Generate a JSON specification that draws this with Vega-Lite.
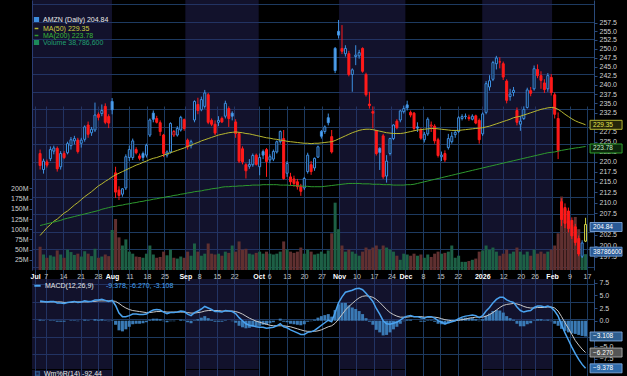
{
"$schema":"https://vega.github.io/schema/vega-lite/v6.json",
"width":562,"height":376,
"autosize":{"type":"none"},
"padding":{"left":32,"top":0,"right":33,"bottom":0},
"background":"#000000",
"config":{
 "view":{"stroke":null,"fill":"#000000"},
 "font":"Liberation Sans",
 "axis":{"labelFont":"Liberation Sans","labelFontSize":7,"labelColor":"#d0d0d0","domainColor":"#2a4a7a","tickColor":"#2a4a7a","gridColor":"#1d3a60","gridOpacity":1,"labelOverlap":false},
 "legend":{"labelFont":"Liberation Sans","labelFontSize":7,"title":null},
 "text":{"font":"Liberation Sans"}
},
"datasets":{
"mon":[{"s":-0.9,"e":22},{"s":43,"e":64},{"s":87,"e":106},{"s":128,"e":148}],
"d":[
{"i":0,"o":222.0,"h":223.0,"l":218.0,"c":219.0,"v":57,"a":202.3,"b":204.6,"m":3.9,"s":3.7,"g":0.2},
{"i":1,"o":218.0,"h":220.7,"l":217.0,"c":220.1,"v":38,"a":203.2,"b":204.8,"m":3.8,"s":3.7,"g":0.1},
{"i":2,"o":219.9,"h":220.5,"l":218.5,"c":219.1,"v":30,"a":204.1,"b":205.0,"m":3.7,"s":3.7,"g":0.0},
{"i":3,"o":220.7,"h":223.8,"l":220.1,"c":223.0,"v":36,"a":204.8,"b":205.2,"m":3.8,"s":3.7,"g":0.1},
{"i":4,"o":222.6,"h":224.0,"l":221.8,"c":223.4,"v":33,"a":205.6,"b":205.4,"m":3.8,"s":3.7,"g":0.1},
{"i":5,"o":223.3,"h":223.8,"l":217.5,"c":218.2,"v":48,"a":206.1,"b":205.6,"m":3.5,"s":3.7,"g":-0.2},
{"i":6,"o":218.7,"h":222.6,"l":218.0,"c":222.0,"v":38,"a":206.8,"b":205.8,"m":3.5,"s":3.7,"g":-0.2},
{"i":7,"o":222.0,"h":222.6,"l":220.6,"c":221.0,"v":30,"a":207.5,"b":206.1,"m":3.4,"s":3.6,"g":-0.2},
{"i":8,"o":222.2,"h":225.0,"l":221.8,"c":224.5,"v":50,"a":208.0,"b":206.3,"m":3.6,"s":3.6,"g":0.0},
{"i":9,"o":224.0,"h":226.2,"l":223.0,"c":225.5,"v":44,"a":208.7,"b":206.5,"m":3.7,"s":3.6,"g":0.1},
{"i":10,"o":225.2,"h":226.5,"l":224.3,"c":225.8,"v":37,"a":209.4,"b":206.7,"m":3.8,"s":3.7,"g":0.1},
{"i":11,"o":225.4,"h":226.0,"l":222.0,"c":222.5,"v":40,"a":210.0,"b":206.9,"m":3.6,"s":3.7,"g":-0.1},
{"i":12,"o":224.6,"h":226.0,"l":223.5,"c":225.4,"v":33,"a":210.7,"b":207.1,"m":3.7,"s":3.7,"g":0.0},
{"i":13,"o":225.6,"h":229.2,"l":225.0,"c":228.8,"v":46,"a":211.4,"b":207.3,"m":3.9,"s":3.7,"g":0.2},
{"i":14,"o":229.3,"h":230.2,"l":226.0,"c":226.9,"v":40,"a":212.0,"b":207.5,"m":3.8,"s":3.7,"g":0.1},
{"i":15,"o":227.3,"h":228.8,"l":226.5,"c":228.2,"v":34,"a":212.6,"b":207.7,"m":3.8,"s":3.8,"g":0.0},
{"i":16,"o":228.0,"h":235.2,"l":227.5,"c":231.9,"v":52,"a":213.3,"b":207.9,"m":4.1,"s":3.8,"g":0.3},
{"i":17,"o":232.1,"h":232.6,"l":230.5,"c":231.3,"v":30,"a":214.0,"b":208.1,"m":4.1,"s":3.9,"g":0.2},
{"i":18,"o":232.3,"h":234.7,"l":231.6,"c":233.1,"v":33,"a":214.5,"b":208.4,"m":4.2,"s":3.9,"g":0.3},
{"i":19,"o":234.2,"h":235.0,"l":229.5,"c":230.0,"v":38,"a":215.1,"b":208.6,"m":4.0,"s":3.9,"g":0.1},
{"i":20,"o":231.5,"h":232.1,"l":228.5,"c":229.8,"v":34,"a":215.6,"b":208.8,"m":3.8,"s":3.9,"g":-0.1},
{"i":21,"o":235.5,"h":236.4,"l":232.1,"c":233.3,"v":98,"a":216.2,"b":209.0,"m":4.0,"s":3.9,"g":0.1},
{"i":22,"o":217.2,"h":218.7,"l":211.1,"c":212.5,"v":125,"a":216.7,"b":209.1,"m":3.0,"s":3.8,"g":-0.8},
{"i":23,"o":213.0,"h":213.9,"l":210.6,"c":211.7,"v":80,"a":217.1,"b":209.3,"m":1.5,"s":3.4,"g":-1.9},
{"i":24,"o":212.0,"h":213.5,"l":211.4,"c":213.3,"v":60,"a":217.5,"b":209.4,"m":0.8,"s":2.9,"g":-2.1},
{"i":25,"o":213.5,"h":221.8,"l":213.0,"c":221.2,"v":75,"a":217.9,"b":209.6,"m":0.8,"s":2.5,"g":-1.7},
{"i":26,"o":221.0,"h":224.0,"l":220.1,"c":223.0,"v":45,"a":218.3,"b":209.7,"m":1.0,"s":2.2,"g":-1.2},
{"i":27,"o":221.0,"h":225.8,"l":220.4,"c":225.2,"v":40,"a":218.7,"b":209.9,"m":1.3,"s":2.0,"g":-0.7},
{"i":28,"o":223.0,"h":223.6,"l":221.8,"c":222.2,"v":33,"a":219.1,"b":210.0,"m":1.3,"s":1.9,"g":-0.6},
{"i":29,"o":221.4,"h":222.0,"l":220.3,"c":220.8,"v":32,"a":219.4,"b":210.2,"m":1.2,"s":1.8,"g":-0.6},
{"i":30,"o":222.0,"h":222.5,"l":220.1,"c":221.0,"v":30,"a":219.8,"b":210.3,"m":1.2,"s":1.7,"g":-0.5},
{"i":31,"o":221.6,"h":224.5,"l":221.0,"c":224.1,"v":40,"a":220.1,"b":210.5,"m":1.3,"s":1.6,"g":-0.3},
{"i":32,"o":226.7,"h":231.0,"l":226.2,"c":230.6,"v":60,"a":220.5,"b":210.6,"m":1.8,"s":1.6,"g":0.2},
{"i":33,"o":232.4,"h":233.1,"l":230.0,"c":230.8,"v":38,"a":220.8,"b":210.8,"m":2.1,"s":1.7,"g":0.4},
{"i":34,"o":231.0,"h":231.7,"l":229.7,"c":230.0,"v":30,"a":221.0,"b":210.9,"m":2.2,"s":1.8,"g":0.4},
{"i":35,"o":229.9,"h":230.5,"l":226.5,"c":227.6,"v":32,"a":221.3,"b":211.1,"m":2.1,"s":1.8,"g":0.3},
{"i":36,"o":226.7,"h":227.0,"l":221.1,"c":222.0,"v":45,"a":221.6,"b":211.2,"m":1.7,"s":1.8,"g":-0.1},
{"i":37,"o":221.6,"h":222.8,"l":221.0,"c":222.4,"v":36,"a":221.9,"b":211.4,"m":1.4,"s":1.7,"g":-0.3},
{"i":38,"o":222.4,"h":230.0,"l":222.0,"c":229.7,"v":50,"a":222.2,"b":211.5,"m":1.6,"s":1.7,"g":-0.1},
{"i":39,"o":226.7,"h":228.0,"l":226.2,"c":227.6,"v":30,"a":222.5,"b":211.7,"m":1.6,"s":1.7,"g":-0.1},
{"i":40,"o":226.7,"h":229.0,"l":226.3,"c":228.4,"v":28,"a":222.8,"b":211.8,"m":1.7,"s":1.7,"g":0.0},
{"i":41,"o":228.0,"h":231.7,"l":227.6,"c":231.3,"v":33,"a":223.1,"b":212.0,"m":1.9,"s":1.7,"g":0.2},
{"i":42,"o":230.7,"h":231.0,"l":227.8,"c":228.4,"v":30,"a":223.4,"b":212.1,"m":1.8,"s":1.7,"g":0.1},
{"i":43,"o":225.4,"h":225.8,"l":223.0,"c":223.7,"v":45,"a":223.8,"b":212.3,"m":1.3,"s":1.6,"g":-0.3},
{"i":44,"o":224.0,"h":225.5,"l":223.3,"c":225.0,"v":35,"a":224.1,"b":212.4,"m":1.0,"s":1.5,"g":-0.5},
{"i":45,"o":230.6,"h":235.8,"l":230.0,"c":235.5,"v":65,"a":224.5,"b":212.6,"m":1.6,"s":1.5,"g":0.1},
{"i":46,"o":234.7,"h":236.5,"l":232.1,"c":233.1,"v":45,"a":224.8,"b":212.7,"m":1.9,"s":1.6,"g":0.3},
{"i":47,"o":233.3,"h":236.8,"l":232.9,"c":236.0,"v":35,"a":225.2,"b":212.8,"m":2.3,"s":1.7,"g":0.6},
{"i":48,"o":234.2,"h":238.6,"l":233.6,"c":237.8,"v":40,"a":225.5,"b":213.0,"m":2.8,"s":1.9,"g":0.9},
{"i":49,"o":237.3,"h":237.8,"l":229.5,"c":230.0,"v":65,"a":225.8,"b":213.1,"m":2.5,"s":2.0,"g":0.5},
{"i":50,"o":230.5,"h":231.0,"l":229.0,"c":229.5,"v":40,"a":226.1,"b":213.3,"m":2.2,"s":2.0,"g":0.2},
{"i":51,"o":229.5,"h":230.5,"l":226.7,"c":227.2,"v":38,"a":226.4,"b":213.4,"m":1.8,"s":2.0,"g":-0.2},
{"i":52,"o":230.0,"h":231.6,"l":229.0,"c":230.5,"v":40,"a":226.7,"b":213.5,"m":1.8,"s":2.0,"g":-0.2},
{"i":53,"o":231.0,"h":231.5,"l":229.8,"c":230.1,"v":35,"a":226.9,"b":213.7,"m":1.7,"s":1.9,"g":-0.2},
{"i":54,"o":231.6,"h":235.7,"l":231.0,"c":235.0,"v":45,"a":227.1,"b":213.8,"m":2.0,"s":1.9,"g":0.1},
{"i":55,"o":233.6,"h":234.2,"l":228.8,"c":231.0,"v":42,"a":227.3,"b":213.8,"m":1.9,"s":1.9,"g":0.0},
{"i":56,"o":232.4,"h":232.9,"l":230.5,"c":231.6,"v":60,"a":227.4,"b":213.9,"m":1.8,"s":1.9,"g":-0.1},
{"i":57,"o":230.1,"h":230.8,"l":226.0,"c":227.1,"v":45,"a":227.5,"b":213.9,"m":1.4,"s":1.8,"g":-0.4},
{"i":58,"o":227.1,"h":227.5,"l":219.6,"c":220.1,"v":70,"a":227.4,"b":214.0,"m":0.6,"s":1.6,"g":-1.0},
{"i":59,"o":223.2,"h":223.8,"l":219.3,"c":219.9,"v":50,"a":227.3,"b":214.0,"m":0.0,"s":1.3,"g":-1.3},
{"i":60,"o":219.2,"h":219.6,"l":215.8,"c":217.7,"v":52,"a":227.1,"b":214.1,"m":-0.6,"s":0.9,"g":-1.5},
{"i":61,"o":218.8,"h":220.6,"l":218.2,"c":219.3,"v":40,"a":227.0,"b":214.1,"m":-0.9,"s":0.5,"g":-1.4},
{"i":62,"o":219.2,"h":222.0,"l":218.7,"c":221.5,"v":38,"a":226.8,"b":214.2,"m":-1.0,"s":0.2,"g":-1.2},
{"i":63,"o":221.6,"h":222.0,"l":219.0,"c":219.3,"v":42,"a":226.6,"b":214.2,"m":-1.2,"s":-0.1,"g":-1.1},
{"i":64,"o":218.7,"h":222.0,"l":216.6,"c":221.0,"v":45,"a":226.4,"b":214.2,"m":-1.3,"s":-0.3,"g":-1.0},
{"i":65,"o":222.5,"h":223.0,"l":220.6,"c":221.6,"v":40,"a":226.2,"b":214.3,"m":-1.3,"s":-0.5,"g":-0.8},
{"i":66,"o":223.0,"h":223.4,"l":216.2,"c":220.0,"v":45,"a":226.0,"b":214.3,"m":-1.5,"s":-0.7,"g":-0.8},
{"i":67,"o":220.4,"h":221.8,"l":219.6,"c":221.2,"v":40,"a":225.9,"b":214.3,"m":-1.4,"s":-0.9,"g":-0.5},
{"i":68,"o":220.6,"h":223.0,"l":220.1,"c":222.5,"v":38,"a":225.7,"b":214.3,"m":-1.3,"s":-1.0,"g":-0.3},
{"i":69,"o":222.4,"h":225.3,"l":222.0,"c":225.0,"v":40,"a":225.6,"b":214.3,"m":-1.0,"s":-1.0,"g":0.0},
{"i":70,"o":225.0,"h":227.9,"l":224.5,"c":227.6,"v":45,"a":225.4,"b":214.2,"m":-0.6,"s":-1.0,"g":0.4},
{"i":71,"o":225.8,"h":228.0,"l":215.5,"c":215.8,"v":70,"a":225.3,"b":214.2,"m":-1.2,"s":-1.0,"g":-0.2},
{"i":72,"o":217.1,"h":220.1,"l":216.2,"c":219.5,"v":50,"a":225.1,"b":214.2,"m":-1.4,"s":-1.1,"g":-0.3},
{"i":73,"o":216.2,"h":217.2,"l":214.1,"c":215.0,"v":45,"a":225.0,"b":214.1,"m":-1.8,"s":-1.2,"g":-0.6},
{"i":74,"o":215.7,"h":216.5,"l":213.8,"c":214.6,"v":42,"a":224.9,"b":214.1,"m":-2.1,"s":-1.4,"g":-0.7},
{"i":75,"o":215.0,"h":215.7,"l":213.1,"c":213.8,"v":45,"a":224.8,"b":214.0,"m":-2.4,"s":-1.6,"g":-0.8},
{"i":76,"o":213.9,"h":214.5,"l":211.6,"c":212.7,"v":55,"a":224.7,"b":214.0,"m":-2.7,"s":-1.8,"g":-0.9},
{"i":77,"o":213.5,"h":216.2,"l":213.0,"c":215.8,"v":40,"a":224.6,"b":213.9,"m":-2.7,"s":-2.0,"g":-0.7},
{"i":78,"o":217.5,"h":222.2,"l":217.0,"c":221.6,"v":50,"a":224.6,"b":213.9,"m":-2.3,"s":-2.1,"g":-0.2},
{"i":79,"o":219.2,"h":220.1,"l":216.7,"c":217.5,"v":45,"a":224.5,"b":213.8,"m":-2.2,"s":-2.1,"g":-0.1},
{"i":80,"o":218.4,"h":221.0,"l":217.7,"c":220.8,"v":38,"a":224.6,"b":213.8,"m":-1.9,"s":-2.1,"g":0.2},
{"i":81,"o":221.1,"h":224.0,"l":220.9,"c":223.7,"v":40,"a":224.6,"b":213.8,"m":-1.4,"s":-2.0,"g":0.6},
{"i":82,"o":227.6,"h":228.0,"l":225.8,"c":226.4,"v":45,"a":224.7,"b":213.8,"m":-0.9,"s":-1.8,"g":0.9},
{"i":83,"o":227.6,"h":229.2,"l":227.0,"c":228.8,"v":40,"a":224.8,"b":213.9,"m":-0.4,"s":-1.5,"g":1.1},
{"i":84,"o":231.2,"h":232.3,"l":229.2,"c":229.9,"v":48,"a":224.9,"b":214.0,"m":0.1,"s":-1.2,"g":1.3},
{"i":85,"o":226.3,"h":228.0,"l":222.0,"c":222.4,"v":90,"a":225.0,"b":214.1,"m":-0.2,"s":-1.0,"g":0.8},
{"i":86,"o":250.1,"h":250.5,"l":243.2,"c":243.9,"v":165,"a":225.3,"b":214.2,"m":1.6,"s":-0.5,"g":2.1},
{"i":87,"o":255.0,"h":258.3,"l":252.9,"c":253.9,"v":100,"a":225.7,"b":214.3,"m":3.5,"s":0.3,"g":3.2},
{"i":88,"o":250.1,"h":256.8,"l":248.5,"c":249.3,"v":60,"a":226.1,"b":214.4,"m":4.7,"s":1.2,"g":3.5},
{"i":89,"o":248.6,"h":251.0,"l":247.8,"c":250.1,"v":45,"a":226.5,"b":214.5,"m":5.6,"s":2.1,"g":3.5},
{"i":90,"o":248.6,"h":249.4,"l":242.3,"c":242.8,"v":50,"a":226.9,"b":214.6,"m":5.8,"s":2.8,"g":3.0},
{"i":91,"o":242.8,"h":244.5,"l":238.1,"c":244.1,"v":45,"a":227.3,"b":214.6,"m":6.0,"s":3.4,"g":2.6},
{"i":92,"o":247.8,"h":251.0,"l":245.4,"c":248.2,"v":40,"a":227.6,"b":214.6,"m":6.3,"s":4.0,"g":2.3},
{"i":93,"o":248.0,"h":249.7,"l":247.2,"c":248.9,"v":35,"a":227.9,"b":214.6,"m":6.4,"s":4.5,"g":1.9},
{"i":94,"o":250.1,"h":250.4,"l":243.3,"c":243.7,"v":45,"a":228.1,"b":214.5,"m":6.1,"s":4.8,"g":1.3},
{"i":95,"o":242.8,"h":243.3,"l":236.8,"c":237.3,"v":55,"a":228.2,"b":214.5,"m":5.4,"s":4.9,"g":0.5},
{"i":96,"o":234.8,"h":238.1,"l":233.6,"c":234.4,"v":50,"a":228.2,"b":214.5,"m":4.6,"s":4.8,"g":-0.2},
{"i":97,"o":232.8,"h":234.2,"l":228.4,"c":232.4,"v":55,"a":228.1,"b":214.4,"m":3.8,"s":4.6,"g":-0.8},
{"i":98,"o":227.9,"h":228.0,"l":221.5,"c":222.0,"v":60,"a":227.9,"b":214.4,"m":2.4,"s":4.2,"g":-1.8},
{"i":99,"o":223.3,"h":223.6,"l":217.9,"c":222.3,"v":50,"a":227.7,"b":214.4,"m":1.3,"s":3.6,"g":-2.3},
{"i":100,"o":226.5,"h":227.0,"l":215.7,"c":216.2,"v":60,"a":227.5,"b":214.3,"m":0.0,"s":2.9,"g":-2.9},
{"i":101,"o":216.4,"h":221.6,"l":214.8,"c":220.1,"v":55,"a":227.3,"b":214.3,"m":-0.6,"s":2.2,"g":-2.8},
{"i":102,"o":222.0,"h":226.0,"l":221.5,"c":225.8,"v":50,"a":227.2,"b":214.3,"m":-0.7,"s":1.6,"g":-2.3},
{"i":103,"o":225.8,"h":229.5,"l":225.4,"c":229.3,"v":45,"a":227.1,"b":214.2,"m":-0.5,"s":1.2,"g":-1.7},
{"i":104,"o":230.3,"h":230.8,"l":228.2,"c":228.6,"v":35,"a":227.1,"b":214.2,"m":-0.3,"s":0.9,"g":-1.2},
{"i":105,"o":230.6,"h":233.3,"l":230.0,"c":233.0,"v":25,"a":227.1,"b":214.2,"m":0.1,"s":0.7,"g":-0.6},
{"i":106,"o":232.8,"h":234.4,"l":232.3,"c":233.6,"v":40,"a":227.2,"b":214.2,"m":0.6,"s":0.7,"g":-0.1},
{"i":107,"o":234.6,"h":235.7,"l":233.1,"c":233.8,"v":38,"a":227.4,"b":214.3,"m":0.9,"s":0.7,"g":0.2},
{"i":108,"o":232.6,"h":233.1,"l":231.3,"c":231.9,"v":35,"a":227.6,"b":214.3,"m":1.0,"s":0.8,"g":0.2},
{"i":109,"o":232.4,"h":232.7,"l":227.8,"c":228.4,"v":40,"a":227.8,"b":214.4,"m":0.8,"s":0.8,"g":0.0},
{"i":110,"o":228.8,"h":230.0,"l":227.5,"c":228.5,"v":35,"a":228.0,"b":214.6,"m":0.8,"s":0.8,"g":0.0},
{"i":111,"o":228.0,"h":228.5,"l":225.5,"c":225.9,"v":38,"a":228.1,"b":214.8,"m":0.6,"s":0.8,"g":-0.2},
{"i":112,"o":225.5,"h":227.5,"l":224.8,"c":226.9,"v":30,"a":228.2,"b":215.0,"m":0.5,"s":0.7,"g":-0.2},
{"i":113,"o":227.0,"h":231.3,"l":226.5,"c":230.8,"v":38,"a":228.3,"b":215.2,"m":0.8,"s":0.7,"g":0.1},
{"i":114,"o":229.0,"h":230.2,"l":227.5,"c":229.3,"v":32,"a":228.4,"b":215.4,"m":0.8,"s":0.7,"g":0.1},
{"i":115,"o":229.0,"h":229.5,"l":224.5,"c":225.2,"v":40,"a":228.4,"b":215.6,"m":0.5,"s":0.7,"g":-0.2},
{"i":116,"o":225.5,"h":226.0,"l":221.0,"c":221.5,"v":45,"a":228.3,"b":215.8,"m":0.0,"s":0.6,"g":-0.6},
{"i":117,"o":221.2,"h":222.5,"l":220.1,"c":221.6,"v":40,"a":228.2,"b":216.0,"m":-0.3,"s":0.4,"g":-0.7},
{"i":118,"o":222.0,"h":222.8,"l":219.9,"c":220.4,"v":42,"a":228.1,"b":216.2,"m":-0.6,"s":0.2,"g":-0.8},
{"i":119,"o":223.5,"h":227.0,"l":223.0,"c":225.8,"v":45,"a":228.0,"b":216.4,"m":-0.4,"s":0.1,"g":-0.5},
{"i":120,"o":225.0,"h":227.5,"l":224.5,"c":226.4,"v":60,"a":227.9,"b":216.6,"m":-0.2,"s":0.0,"g":-0.2},
{"i":121,"o":226.8,"h":228.0,"l":226.0,"c":227.4,"v":30,"a":227.9,"b":216.8,"m":0.0,"s":0.0,"g":0.0},
{"i":122,"o":227.6,"h":231.6,"l":227.2,"c":231.2,"v":35,"a":227.9,"b":217.0,"m":0.4,"s":0.1,"g":0.3},
{"i":123,"o":231.0,"h":232.1,"l":230.5,"c":231.5,"v":20,"a":228.0,"b":217.2,"m":0.7,"s":0.2,"g":0.5},
{"i":124,"o":231.5,"h":232.3,"l":230.8,"c":231.6,"v":20,"a":228.1,"b":217.4,"m":0.9,"s":0.3,"g":0.6},
{"i":125,"o":231.3,"h":232.0,"l":230.4,"c":231.0,"v":22,"a":228.2,"b":217.6,"m":1.0,"s":0.5,"g":0.5},
{"i":126,"o":230.8,"h":232.1,"l":230.5,"c":231.6,"v":25,"a":228.3,"b":217.8,"m":1.1,"s":0.6,"g":0.5},
{"i":127,"o":231.7,"h":232.0,"l":229.5,"c":229.8,"v":28,"a":228.4,"b":218.0,"m":1.0,"s":0.7,"g":0.3},
{"i":128,"o":230.5,"h":231.0,"l":224.5,"c":225.5,"v":45,"a":228.5,"b":218.2,"m":0.6,"s":0.7,"g":-0.1},
{"i":129,"o":227.0,"h":232.6,"l":226.5,"c":232.2,"v":48,"a":228.6,"b":218.4,"m":1.0,"s":0.7,"g":0.3},
{"i":130,"o":232.6,"h":241.0,"l":232.1,"c":240.3,"v":60,"a":228.8,"b":218.6,"m":1.9,"s":0.9,"g":1.0},
{"i":131,"o":239.4,"h":242.6,"l":238.4,"c":241.1,"v":50,"a":229.0,"b":218.8,"m":2.6,"s":1.2,"g":1.4},
{"i":132,"o":241.5,"h":246.6,"l":241.0,"c":246.1,"v":55,"a":229.3,"b":219.0,"m":3.5,"s":1.6,"g":1.9},
{"i":133,"o":245.8,"h":248.0,"l":244.2,"c":247.4,"v":45,"a":229.6,"b":219.2,"m":4.2,"s":2.1,"g":2.1},
{"i":134,"o":246.3,"h":247.6,"l":244.5,"c":246.3,"v":35,"a":229.9,"b":219.4,"m":4.6,"s":2.6,"g":2.0},
{"i":135,"o":245.8,"h":246.4,"l":241.3,"c":242.1,"v":40,"a":230.2,"b":219.6,"m":4.6,"s":3.0,"g":1.6},
{"i":136,"o":241.0,"h":241.5,"l":235.0,"c":235.8,"v":50,"a":230.5,"b":219.8,"m":4.1,"s":3.2,"g":0.9},
{"i":137,"o":236.8,"h":238.9,"l":235.7,"c":237.5,"v":40,"a":230.8,"b":220.0,"m":3.8,"s":3.3,"g":0.5},
{"i":138,"o":237.9,"h":239.4,"l":236.9,"c":238.5,"v":45,"a":231.2,"b":220.2,"m":3.6,"s":3.4,"g":0.2},
{"i":139,"o":233.1,"h":233.9,"l":229.2,"c":230.0,"v":55,"a":231.4,"b":220.4,"m":2.7,"s":3.3,"g":-0.6},
{"i":140,"o":229.5,"h":231.6,"l":227.8,"c":230.3,"v":45,"a":231.6,"b":220.6,"m":2.0,"s":3.1,"g":-1.1},
{"i":141,"o":231.0,"h":234.2,"l":230.6,"c":233.4,"v":38,"a":231.9,"b":220.8,"m":1.7,"s":2.8,"g":-1.1},
{"i":142,"o":233.9,"h":239.2,"l":233.6,"c":238.6,"v":45,"a":232.2,"b":221.0,"m":1.9,"s":2.6,"g":-0.7},
{"i":143,"o":238.4,"h":239.4,"l":236.9,"c":237.7,"v":35,"a":232.5,"b":221.2,"m":2.0,"s":2.5,"g":-0.5},
{"i":144,"o":238.9,"h":245.3,"l":238.4,"c":244.4,"v":50,"a":232.8,"b":221.4,"m":2.6,"s":2.5,"g":0.1},
{"i":145,"o":244.2,"h":245.6,"l":241.8,"c":242.5,"v":40,"a":233.1,"b":221.6,"m":2.9,"s":2.6,"g":0.3},
{"i":146,"o":242.5,"h":243.7,"l":238.9,"c":241.2,"v":45,"a":233.4,"b":221.8,"m":2.9,"s":2.6,"g":0.3},
{"i":147,"o":240.5,"h":241.5,"l":237.8,"c":238.7,"v":40,"a":233.6,"b":222.0,"m":2.7,"s":2.6,"g":0.1},
{"i":148,"o":238.9,"h":243.2,"l":238.1,"c":242.5,"v":45,"a":233.8,"b":222.2,"m":2.9,"s":2.7,"g":0.2},
{"i":149,"o":242.0,"h":242.9,"l":237.1,"c":237.9,"v":50,"a":233.9,"b":222.3,"m":2.6,"s":2.7,"g":-0.1},
{"i":150,"o":237.3,"h":237.9,"l":231.0,"c":232.1,"v":60,"a":233.8,"b":222.4,"m":1.9,"s":2.5,"g":-0.6},
{"i":151,"o":231.0,"h":232.6,"l":220.6,"c":222.8,"v":90,"a":233.4,"b":222.6,"m":0.9,"s":1.9,"g":-1.0},
{"i":152,"o":210.2,"h":211.0,"l":204.5,"c":206.0,"v":180,"a":232.8,"b":222.8,"m":-0.8,"s":0.8,"g":-1.6},
{"i":153,"o":208.8,"h":209.8,"l":204.0,"c":205.1,"v":150,"a":232.1,"b":222.95,"m":-2.4,"s":-0.4,"g":-2.0},
{"i":154,"o":208.0,"h":208.8,"l":203.0,"c":203.9,"v":120,"a":231.5,"b":223.1,"m":-3.8,"s":-1.5,"g":-2.3},
{"i":155,"o":205.8,"h":206.5,"l":201.5,"c":202.2,"v":110,"a":230.9,"b":223.25,"m":-5.2,"s":-2.7,"g":-2.5},
{"i":156,"o":204.3,"h":205.0,"l":200.0,"c":200.7,"v":130,"a":230.4,"b":223.4,"m":-6.5,"s":-3.9,"g":-2.6},
{"i":157,"o":201.6,"h":202.3,"l":197.6,"c":198.1,"v":100,"a":230.0,"b":223.5,"m":-7.6,"s":-4.8,"g":-2.8},
{"i":158,"o":197.6,"h":201.2,"l":197.2,"c":200.6,"v":34,"a":229.7,"b":223.65,"m":-8.6,"s":-5.6,"g":-3.0},
{"i":159,"o":201.0,"h":206.4,"l":200.8,"c":204.84,"v":38.7866,"a":229.35,"b":223.78,"m":-9.378,"s":-6.27,"g":-3.108}
]},
"layer":[
 {"data":{"name":"mon"},"mark":{"type":"rect","fill":"#2c2c6a","opacity":0.42},
  "encoding":{
   "x":{"field":"s","type":"quantitative","title":null,"scale":{"domain":[-0.9,160],"nice":false,"zero":false},
    "axis":{"orient":"bottom","offset":-106,"values":[0,3,8,13,18,22,27,32,37,43,47,52,57,64,67,72,77,82,87,92,97,102,106,111,116,121,128,134,139,143,148,153,158],
     "labelExpr":"['Jul','7','14','21','28','Aug','11','18','25','Sep','8','15','22','Oct','6','13','20','27','Nov','10','17','24','Dec','8','15','22','2026','12','20','26','Feb','9','17'][indexof([0,3,8,13,18,22,27,32,37,43,47,52,57,64,67,72,77,82,87,92,97,102,106,111,116,121,128,134,139,143,148,153,158],datum.value)]",
     "labelFontWeight":{"condition":{"test":"indexof([0,22,43,64,87,106,128,148],datum.value)>=0","value":"bold"},"value":"normal"},
     "labelColor":{"condition":{"test":"indexof([0,22,43,64,87,106,128,148],datum.value)>=0","value":"#ffffff"},"value":"#c8c8c8"},
     "labelBound":false,"labelFlush":false,"labelOverlap":false,"ticks":false,"domain":false,"labelPadding":2,"grid":true}},
   "x2":{"field":"e"},
   "y":{"datum":-0.19,"type":"quantitative","title":null,"scale":{"domain":[-0.19,15.24],"range":[270,0],"nice":false,"zero":false},
    "axis":{"orient":"left","values":[0,1,2,3,4,5,6,7,8,9,10,11,12,13,14,15],"labels":false,"ticks":false,"domain":false,"grid":true}},
   "y2":{"datum":15.24}}},
 {"data":{"name":"mon"},"mark":{"type":"rect","fill":"#2c2c6a","opacity":0.42},
  "encoding":{
   "x":{"field":"s","type":"quantitative","title":null,"scale":{"domain":[-0.9,160],"nice":false,"zero":false},"axis":null},
   "x2":{"field":"e"},
   "y":{"datum":0.154,"type":"quantitative","title":null,"scale":{"domain":[0.154,5.297],"range":[369,279],"nice":false,"zero":false},
    "axis":{"orient":"left","values":[1,2,3,4,5],"labels":false,"ticks":false,"domain":false,"grid":true}},
   "y2":{"datum":5.297}}},
 {"data":{"name":"mon"},"mark":{"type":"rect","fill":"#2c2c6a","opacity":0.42,"strokeWidth":0},
  "encoding":{
   "x":{"field":"s","type":"quantitative","title":null,"scale":{"domain":[-0.9,160],"nice":false,"zero":false},"axis":null},
   "x2":{"field":"e"},
   "y":{"datum":0,"type":"quantitative","title":null,"scale":{"domain":[0,1],"range":[376,370],"nice":false,"zero":false},"axis":null},
   "y2":{"datum":1},
   "stroke":{"datum":"w","type":"nominal","scale":{"domain":["w"],"range":["#4aa3f0"]},
    "legend":{"orient":"none","legendX":0,"legendY":368,"padding":2,"labelOffset":3,"symbolType":"square","symbolSize":14,"symbolFillColor":"#4aa3f0","labelExpr":"'Wm%R(14) -92.44'","labelColor":"#e8e8e8"}}}},
 {"data":{"name":"d"},
  "transform":[{"window":[{"op":"lag","field":"c","as":"pc"}],"sort":[{"field":"i"}]}],
  "encoding":{"x":{"field":"i","type":"quantitative","title":null,"scale":{"domain":[-0.9,160],"nice":false,"zero":false},"axis":null}},
  "layer":[
   {"mark":{"type":"bar","orient":"vertical","size":3},
    "encoding":{"y":{"field":"v","type":"quantitative","title":null,"scale":{"domain":[0,661.8],"range":[270,0],"nice":false},
      "axis":{"orient":"left","values":[25,50,75,100,125,150,175,200],"labelExpr":"datum.value+'M'","grid":false,"tickSize":3,"labelPadding":1,"domain":true,"labelOverlap":false}},
     "color":{"condition":{"test":"datum.pc!=null && datum.c>=datum.pc","value":"#1d6045"},"value":"#603030"}}},
   {"transform":[{"filter":"datum.i==159"}],
    "mark":{"type":"tick","orient":"horizontal","size":32,"thickness":9,"xOffset":20.5,"yOffset":-2.5,"fill":"#2a5a96","stroke":"#7aa8e0","strokeWidth":0.8,"opacity":1},
    "encoding":{"y":{"field":"v","type":"quantitative","title":null}}},
   {"transform":[{"filter":"datum.i==159"}],
    "mark":{"type":"text","align":"left","baseline":"middle","dx":7.5,"dy":-2.5,"fontSize":6.5,"color":"#ffffff"},
    "encoding":{"y":{"field":"v","type":"quantitative","title":null},"text":{"value":"38786600"}}}
  ]},
 {"data":{"name":"d"},
  "transform":[{"window":[{"op":"lag","field":"c","as":"pc"}],"sort":[{"field":"i"}]}],
  "encoding":{"x":{"field":"i","type":"quantitative","title":null,"scale":{"domain":[-0.9,160],"nice":false,"zero":false},"axis":null}},
  "layer":[
   {"mark":{"type":"rule","strokeWidth":1},
    "encoding":{"y":{"field":"l","type":"quantitative","title":null,"scale":{"type":"log","domain":[194.54,264.21],"range":[270,0],"nice":false,"zero":false},
       "axis":{"orient":"right","values":[197.5,200,202.5,205,207.5,210,212.5,215,217.5,220,222.5,225,227.5,230,232.5,235,237.5,240,242.5,245,247.5,250,252.5,255,257.5],"format":".1f","tickSize":3,"labelPadding":2,"grid":false,"labelOverlap":false,
         "labelOpacity":{"condition":{"test":"datum.value==205||datum.value==230","value":0},"value":1}}},
     "y2":{"field":"h"},
     "color":{"condition":[{"test":"datum.i==159","value":"#d0d040"},{"test":"datum.pc!=null && datum.c>=datum.pc","value":"#3d8fe0"}],"value":"#ff1a1a"}}},
   {"mark":{"type":"bar","orient":"vertical","size":2,"strokeWidth":1},
    "encoding":{"y":{"field":"o","type":"quantitative","title":null},
     "y2":{"field":"c"},
     "stroke":{"condition":[{"test":"datum.i==159","value":"#d0d040"},{"test":"datum.pc!=null && datum.c>=datum.pc","value":"#3d8fe0"}],"value":"#ff1a1a"},
     "fill":{"condition":[{"test":"datum.c>=datum.o","value":"#080814"},{"test":"datum.pc!=null && datum.c>=datum.pc","value":"#5aa8f0"}],"value":"#ff1a1a"}}},
   {"mark":{"type":"line","strokeWidth":1},
    "encoding":{"y":{"field":"a","type":"quantitative","title":null},
     "color":{"datum":"ma50","type":"nominal","scale":{"domain":["px","ma50","ma200","vol"],"range":["#3d8fe0","#b8b830","#2e9a2e","#1d8a5a"]},
       "legend":{"orient":"none","legendX":-1,"legendY":14,"padding":2,"rowPadding":-4,"labelOffset":3,"symbolSize":14,"symbolStrokeWidth":1.5,
         "symbolType":{"expr":"datum.value=='ma50'||datum.value=='ma200'?'stroke':'square'"},
         "symbolFillColor":{"expr":"datum.value=='px'?'#3d8fe0':datum.value=='vol'?'#1d8a5a':'transparent'"},
         "labelExpr":"datum.value=='px'?'AMZN (Daily) 204.84':datum.value=='ma50'?'MA(50) 229.35':datum.value=='ma200'?'MA(200) 223.78':'Volume 38,786,600'",
         "labelColor":{"expr":"datum.value=='ma50'?'#d0d040':datum.value=='ma200'?'#38b838':datum.value=='vol'?'#20a070':'#e8e8e8'"}}}}},
   {"mark":{"type":"line","strokeWidth":1},
    "encoding":{"y":{"field":"b","type":"quantitative","title":null},"color":{"datum":"ma200","type":"nominal"}}},
   {"transform":[{"filter":"datum.i==159"}],
    "mark":{"type":"tick","orient":"horizontal","size":32,"thickness":9,"xOffset":20.5,"fill":"#26260a","stroke":"#b4b432","strokeWidth":1,"opacity":1},
    "encoding":{"y":{"field":"a","type":"quantitative","title":null}}},
   {"transform":[{"filter":"datum.i==159"}],
    "mark":{"type":"tick","orient":"horizontal","size":32,"thickness":9,"xOffset":20.5,"yOffset":2,"fill":"#0c260c","stroke":"#2ea02e","strokeWidth":1,"opacity":1},
    "encoding":{"y":{"field":"b","type":"quantitative","title":null}}},
   {"transform":[{"filter":"datum.i==159"}],
    "mark":{"type":"tick","orient":"horizontal","size":32,"thickness":9,"xOffset":20.5,"yOffset":2.5,"fill":"#2a5a96","stroke":"#8ab4e8","strokeWidth":0.8,"opacity":1},
    "encoding":{"y":{"field":"c","type":"quantitative","title":null}}},
   {"transform":[{"filter":"datum.i==159"}],
    "mark":{"type":"text","align":"left","baseline":"middle","dx":7.5,"fontSize":6.5,"color":"#e4e450"},
    "encoding":{"y":{"field":"a","type":"quantitative","title":null},"text":{"field":"a","format":".2f"}}},
   {"transform":[{"filter":"datum.i==159"}],
    "mark":{"type":"text","align":"left","baseline":"middle","dx":7.5,"dy":2,"fontSize":6.5,"color":"#c8f0c8"},
    "encoding":{"y":{"field":"b","type":"quantitative","title":null},"text":{"field":"b","format":".2f"}}},
   {"transform":[{"filter":"datum.i==159"}],
    "mark":{"type":"text","align":"left","baseline":"middle","dx":7.5,"dy":2.5,"fontSize":6.5,"color":"#ffffff"},
    "encoding":{"y":{"field":"c","type":"quantitative","title":null},"text":{"field":"c","format":".2f"}}}
  ]},
 {"data":{"name":"d"},
  "encoding":{"x":{"field":"i","type":"quantitative","title":null,"scale":{"domain":[-0.9,160],"nice":false,"zero":false},"axis":null}},
  "layer":[
   {"mark":{"type":"bar","orient":"vertical","size":3,"color":"#3a7ab5"},
    "encoding":{"y":{"field":"g","type":"quantitative","title":null,"scale":{"domain":[-9.51,8.21],"range":[369,279],"nice":false,"zero":false},
      "axis":{"orient":"right","values":[-7.5,-5,-2.5,0,2.5,5,7.5],"format":".1f","tickSize":3,"labelPadding":2,"grid":false,"labelOverlap":false,
        "labelOpacity":{"condition":{"test":"datum.value==-2.5","value":0},"value":1}}},
     "y2":{"datum":0}}},
   {"mark":{"type":"line","strokeWidth":1,"color":"#c8c8c8"},
    "encoding":{"y":{"field":"s","type":"quantitative","title":null}}},
   {"mark":{"type":"line","strokeWidth":1.5},
    "encoding":{"y":{"field":"m","type":"quantitative","title":null},
     "color":{"datum":"macd","type":"nominal","scale":{"domain":["macd","vals"],"range":["#4aa3f0","#4aa3f0"]},
      "legend":{"orient":"none","legendX":-1,"legendY":279,"padding":2,"direction":"horizontal","columnPadding":-7,"labelOffset":3,"symbolType":"stroke","symbolSize":40,"symbolStrokeWidth":2,
       "labelExpr":"datum.value=='macd'?'MACD(12,26,9)':'-9.378, -6.270, -3.108'",
       "symbolOpacity":{"expr":"datum.value=='macd'?1:0"},
       "labelColor":{"expr":"datum.value=='macd'?'#e8e8e8':'#4aa3f0'"}}}}},
   {"transform":[{"filter":"datum.i==159"}],
    "mark":{"type":"tick","orient":"horizontal","size":32,"thickness":9,"xOffset":20.5,"fill":"#2f6aa8","stroke":"#8ab4e8","strokeWidth":0.8,"opacity":1},
    "encoding":{"y":{"field":"m","type":"quantitative","title":null}}},
   {"transform":[{"filter":"datum.i==159"}],
    "mark":{"type":"tick","orient":"horizontal","size":32,"thickness":9,"xOffset":20.5,"fill":"#555555","stroke":"#bbbbbb","strokeWidth":0.8,"opacity":1},
    "encoding":{"y":{"field":"s","type":"quantitative","title":null}}},
   {"transform":[{"filter":"datum.i==159"}],
    "mark":{"type":"tick","orient":"horizontal","size":32,"thickness":9,"xOffset":20.5,"fill":"#2f5f90","stroke":"#8ab4e8","strokeWidth":0.8,"opacity":1},
    "encoding":{"y":{"field":"g","type":"quantitative","title":null}}},
   {"transform":[{"filter":"datum.i==159"}],
    "mark":{"type":"text","align":"left","baseline":"middle","dx":7.5,"fontSize":6.5,"color":"#ffffff"},
    "encoding":{"y":{"field":"m","type":"quantitative","title":null},"text":{"field":"m","format":".3f"}}},
   {"transform":[{"filter":"datum.i==159"}],
    "mark":{"type":"text","align":"left","baseline":"middle","dx":7.5,"fontSize":6.5,"color":"#ffffff"},
    "encoding":{"y":{"field":"s","type":"quantitative","title":null},"text":{"field":"s","format":".3f"}}},
   {"transform":[{"filter":"datum.i==159"}],
    "mark":{"type":"text","align":"left","baseline":"middle","dx":7.5,"fontSize":6.5,"color":"#ffffff"},
    "encoding":{"y":{"field":"g","type":"quantitative","title":null},"text":{"field":"g","format":".3f"}}}
  ]}
],
"resolve":{"scale":{"x":"independent","y":"independent","color":"independent"},"axis":{"x":"independent","y":"independent"},"legend":{"color":"independent"}}
}
